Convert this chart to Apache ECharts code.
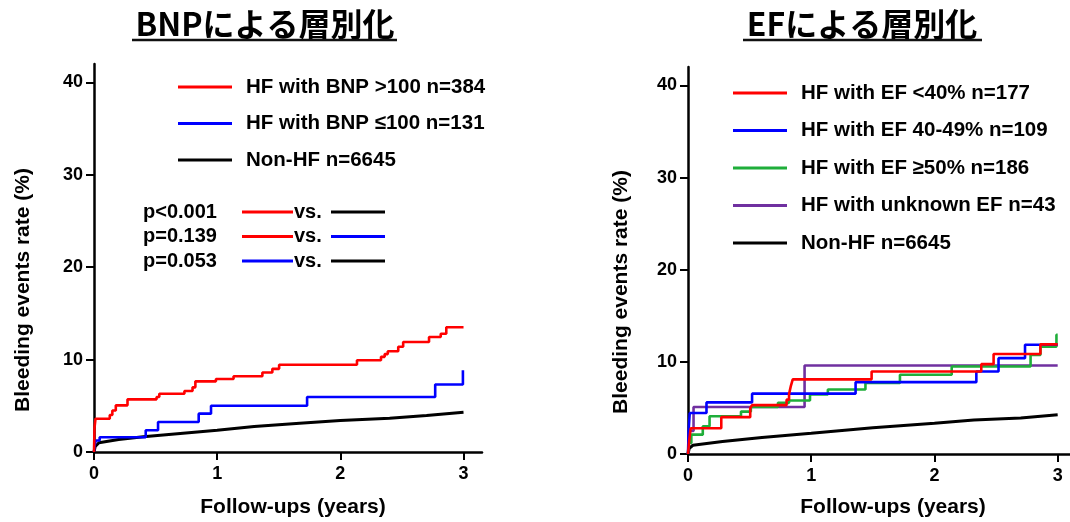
<!DOCTYPE html>
<html>
<head>
<meta charset="utf-8">
<script src="https://cdn.jsdelivr.net/npm/echarts@6/dist/echarts.min.js"></script>
<style>
  html, body { margin: 0; padding: 0; background: #ffffff; }
  #chart { width: 1070px; height: 522px; }
</style>
</head>
<body>
<div id="chart"></div>
<script>
// ---- data (years vs. cumulative %) ----
const yTicks = [0, 10, 20, 30, 40];
const xTicks = [0, 1, 2, 3];

// left panel: BNP strata
const bnpHigh = [[0, 0], [0.004, 2.6], [0.012, 3.6], [0.128, 4.0], [0.149, 4.5], [0.177, 5.05], [0.272, 5.7],
  [0.508, 5.95], [0.53, 6.3], [0.734, 6.6], [0.8, 7.0], [0.823, 7.65], [0.99, 7.9], [1.133, 8.2], [1.367, 8.6],
  [1.448, 9.0], [1.503, 9.45], [2.135, 9.93], [2.33, 10.3], [2.36, 10.6], [2.385, 10.9], [2.47, 11.4],
  [2.51, 11.9], [2.72, 12.45], [2.815, 12.8], [2.86, 13.5], [3.0, 13.5]];
const bnpLow = [[0, 0], [0.005, 0.7], [0.014, 1.25], [0.046, 1.6], [0.42, 2.35], [0.52, 3.25], [0.85, 4.15],
  [0.95, 5.0], [1.73, 5.95], [2.77, 7.3], [2.995, 8.85], [3.0, 8.85]];
const nonHfA = [[0, 0], [0.01, 0.6], [0.04, 1.0], [0.2, 1.35], [0.4, 1.65], [0.7, 2.0], [1.0, 2.35], [1.3, 2.75],
  [1.67, 3.1], [2.0, 3.4], [2.4, 3.65], [2.7, 3.95], [3.0, 4.3]];

// right panel: EF strata
const efLow = [[0, 0], [0.01, 1.5], [0.022, 2.8], [0.27, 4.0], [0.505, 5.0], [0.52, 5.3], [0.8, 5.9], [0.82, 6.5],
  [0.835, 7.4], [0.85, 8.1], [1.49, 8.95], [2.38, 9.75], [2.48, 10.85], [2.86, 11.9], [3.0, 11.9]];
const efMid = [[0, 0], [0.005, 2.5], [0.014, 4.45], [0.15, 5.6], [0.52, 6.55], [1.36, 7.8], [2.34, 8.95],
  [2.52, 10.4], [2.735, 11.85], [3.0, 11.85]];
const efHigh = [[0, 0], [0.006, 1.2], [0.027, 2.1], [0.12, 3.0], [0.175, 4.1], [0.43, 4.6], [0.51, 5.1],
  [0.73, 5.55], [0.82, 5.8], [0.99, 6.45], [1.135, 7.0], [1.44, 7.7], [1.72, 8.6], [2.14, 9.5], [2.78, 10.75],
  [2.86, 11.65], [2.99, 12.95], [3.0, 12.95]];
const efUnknown = [[0, 0], [0.01, 2.5], [0.045, 5.1], [0.946, 9.6], [3.0, 9.6]];
const nonHfB = [[0, 0], [0.01, 0.6], [0.04, 0.95], [0.28, 1.35], [0.6, 1.8], [1.0, 2.25], [1.5, 2.85], [2.0, 3.35],
  [2.32, 3.7], [2.7, 3.9], [3.0, 4.27]];

const namesA = ['HF with BNP >100 n=384', 'HF with BNP ≤100 n=131', 'Non-HF n=6645'];
const namesB = ['HF with EF <40% n=177', 'HF with EF 40-49% n=109', 'HF with EF ≥50% n=186',
  'HF with unknown EF n=43', 'Non-HF n=6645'];
const pRows = [
  { p: 'p<0.001', a: '#ff0000', b: '#000000' },
  { p: 'p=0.139', a: '#ff0000', b: '#0000ff' },
  { p: 'p=0.053', a: '#0000ff', b: '#000000' },
];

const C = { red: '#ff0000', blue: '#0000ff', green: '#1fae3a', purple: '#7030a0', black: '#000000' };
const FONT = '"Liberation Sans", Arial, sans-serif';
const JP = '"Noto Sans CJK JP", sans-serif';

function xAxis(gridIndex, max) {
  return {
    type: 'value', gridIndex, min: 0, max, interval: 1,
    axisLine: { show: true, onZero: false, lineStyle: { color: '#000', width: 2.5 } },
    axisTick: { show: true, customValues: xTicks, length: 8, inside: false, lineStyle: { color: '#000', width: 2 } },
    axisLabel: { customValues: xTicks, margin: 13, color: '#000', fontFamily: FONT, fontWeight: 'bold', fontSize: 18 },
    splitLine: { show: false },
  };
}
function yAxis(gridIndex) {
  return {
    type: 'value', gridIndex, min: 0, max: 42, interval: 10,
    axisLine: { show: true, onZero: false, lineStyle: { color: '#000', width: 2.5 } },
    axisTick: { show: true, customValues: yTicks, length: 8, lineStyle: { color: '#000', width: 2 } },
    axisLabel: { customValues: yTicks, margin: 11, color: '#000', fontFamily: FONT, fontWeight: 'bold', fontSize: 18 },
    splitLine: { show: false },
  };
}
function km(name, data, color, idx, width) {
  return {
    name, type: 'line', data, step: 'end', xAxisIndex: idx, yAxisIndex: idx,
    showSymbol: false, symbol: 'none', color, lineStyle: { color, width: width || 2.6 }, z: 3,
  };
}
function smooth(name, data, idx) {
  return {
    name, type: 'line', data, xAxisIndex: idx, yAxisIndex: idx,
    showSymbol: false, symbol: 'none', color: C.black, lineStyle: { color: C.black, width: 3 }, z: 2,
  };
}
function legend(names, left, top, gap) {
  return {
    data: names, orient: 'vertical', left, top, itemGap: gap, icon: 'rect',
    itemWidth: 54, itemHeight: 3, selectedMode: false,
    textStyle: { color: '#000', fontFamily: FONT, fontWeight: 'bold', fontSize: 20.5, lineHeight: 22, padding: [0, 0, 0, 9] },
  };
}
function txt(text, x, y, font, extra) {
  return Object.assign({
    type: 'text', x, y,
    style: { text, font, fill: '#000', align: 'left', textAlign: 'left', verticalAlign: 'middle', textVerticalAlign: 'middle' },
  }, extra || {});
}
function seg(x1, x2, y, color) {
  return { type: 'line', shape: { x1, y1: y, x2, y2: y }, style: { stroke: color, lineWidth: 3 } };
}
function centerTxt(text, x, y, font, rot) {
  return {
    type: 'text', x, y, rotation: rot || 0,
    style: { text, font, fill: '#000', align: 'center', textAlign: 'center', verticalAlign: 'middle', textVerticalAlign: 'middle' },
  };
}

const graphics = [];
// titles with underline
graphics.push(centerTxt('BNPによる層別化', 265, 24, 'bold 32px ' + JP));
graphics.push({ type: 'line', shape: { x1: 132, y1: 40, x2: 397, y2: 40 }, style: { stroke: '#111', lineWidth: 2.5 } });
graphics.push(centerTxt('EFによる層別化', 862, 24, 'bold 32px ' + JP));
graphics.push({ type: 'line', shape: { x1: 743, y1: 40, x2: 982, y2: 40 }, style: { stroke: '#111', lineWidth: 2.5 } });
// axis titles
const axisFont = 'bold 21px ' + FONT;
graphics.push(centerTxt('Bleeding events rate (%)', 23, 290, axisFont, Math.PI / 2));
graphics.push(centerTxt('Bleeding events rate (%)', 621, 292, axisFont, Math.PI / 2));
graphics.push(centerTxt('Follow-ups (years)', 293, 507, axisFont));
graphics.push(centerTxt('Follow-ups (years)', 893, 507, axisFont));
// p-value comparisons
pRows.forEach((r, i) => {
  const y = 212 + i * 24.5;
  graphics.push(txt(r.p, 143, y, 'bold 20px ' + FONT));
  graphics.push(seg(242, 293, y, r.a));
  graphics.push(txt('vs.', 294, y, 'bold 20px ' + FONT));
  graphics.push(seg(331, 385, y, r.b));
});

const option = {
  backgroundColor: '#ffffff',
  animation: false,
  grid: [
    { left: 94, right: 588, top: 64, bottom: 70 },
    { left: 688, right: 0, top: 67, bottom: 68 },
  ],
  xAxis: [xAxis(0, 3.15), xAxis(1, 3.1)],
  yAxis: [yAxis(0), yAxis(1)],
  legend: [
    legend(namesA, 173, 71, 14.5),
    legend(namesB, 728, 77, 15.5),
  ],
  graphic: graphics,
  series: [
    smooth(namesA[2], nonHfA, 0),
    km(namesA[1], bnpLow, C.blue, 0),
    km(namesA[0], bnpHigh, C.red, 0),
    smooth(namesB[4], nonHfB, 1),
    km(namesB[3], efUnknown, C.purple, 1),
    km(namesB[2], efHigh, C.green, 1),
    km(namesB[1], efMid, C.blue, 1),
    km(namesB[0], efLow, C.red, 1),
  ],
};

const chart = echarts.init(document.getElementById('chart'), null, { renderer: 'canvas' });
chart.setOption(option);
</script>
</body>
</html>
